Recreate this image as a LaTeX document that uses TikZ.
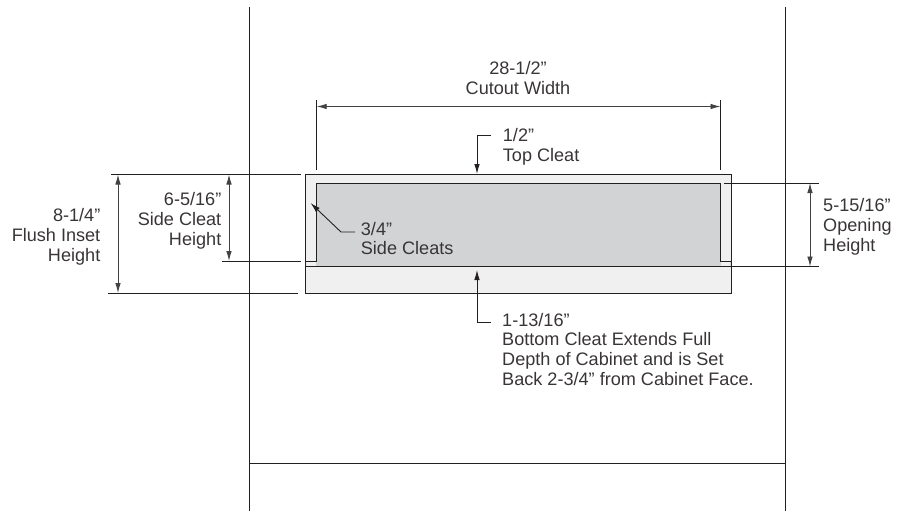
\documentclass[tikz,border=0pt]{standalone}
\usepackage{fontspec}
\setmainfont{Liberation Sans}
\usetikzlibrary{arrows.meta}
\definecolor{ink}{HTML}{231F20}
\definecolor{cleat}{HTML}{F0F0F0}
\definecolor{opening}{HTML}{D1D3D4}
\tikzset{x=1pt,y=-1pt,
  every node/.style={font=\fontsize{18.1}{19.8}\selectfont,text=ink!90,inner sep=0pt},
  wall/.style={draw=ink,line width=1.5pt},
  thin line/.style={draw=ink,line width=.9pt},
  dim/.style={draw=ink!85,line width=.9pt,{Latex[length=10pt,width=5.5pt]}-{Latex[length=10pt,width=5.5pt]}},
  lead/.style={draw=ink,line width=.9pt,{Latex[length=10pt,width=5.5pt]}-},
  clbl/.style={align=center,anchor=base},
  rlbl/.style={align=right,anchor=base east},
  llbl/.style={align=left,anchor=base west}}
\begin{document}
\begin{tikzpicture}
\useasboundingbox (0,0) rectangle (904,511);
% walls
\coordinate (wl1) at (249.7,7); \coordinate (wl2) at (249.7,511);
\coordinate (wr1) at (785.7,7); \coordinate (wr2) at (785.7,511);
\coordinate (s1) at (249.7,463); \coordinate (s2) at (785.7,463);
\draw[wall] (wl1)--(wl2); \draw[wall] (wr1)--(wr2);
\draw[thin line] (s1)--(s2);
% cutout
\path[fill=cleat,thin line] (305,174) rectangle (731,293);
\path[fill=opening,thin line] (305,261)--(316.7,261)--(316.7,183)--(720.5,183)--(720.5,261)--(731,261)--(731,266.5)--(305,266.5)--cycle;
\fill[cleat] (305.6,261.6) rectangle (316.2,266);
\fill[cleat] (721,261.6) rectangle (730.4,266);
% extension lines
\coordinate (t1) at (316.7,100); \coordinate (t2) at (316.7,170);
\coordinate (t3) at (720.5,100); \coordinate (t4) at (720.5,170);
\draw[thin line] (t1)--(t2); \draw[thin line] (t3)--(t4);
\coordinate (la) at (111,174); \coordinate (lb) at (301,174);
\coordinate (lc) at (222,261); \coordinate (ld) at (301,261);
\coordinate (le) at (108,293); \coordinate (lf) at (298,293);
\draw[thin line] (la)--(lb); \draw[thin line] (lc)--(ld); \draw[thin line] (le)--(lf);
\coordinate (ra) at (724,183); \coordinate (rb) at (819,183);
\coordinate (rc) at (724,266.5); \coordinate (rd) at (819,266.5);
\draw[thin line] (ra)--(rb); \draw[thin line] (rc)--(rd);
% dimensions
\coordinate (w1) at (316.7,106.5); \coordinate (w2) at (720.5,106.5);
\draw[dim] (w1)--(w2);
\coordinate (f1) at (118,174.5); \coordinate (f2) at (118,293);
\draw[dim] (f1)--(f2);
\coordinate (h1) at (229,174.5); \coordinate (h2) at (229,261);
\draw[dim] (h1)--(h2);
\coordinate (o1) at (810,183); \coordinate (o2) at (810,266.5);
\draw[dim] (o1)--(o2);
% leaders
\coordinate (a1) at (477,174); \coordinate (a2) at (477,135.5); \coordinate (a3) at (491,135.5);
\draw[lead] (a1)--(a2)--(a3);
\coordinate (b1) at (477,270); \coordinate (b2) at (477,322.5); \coordinate (b3) at (491,322.5);
\draw[lead] (b1)--(b2)--(b3);
\coordinate (c1) at (310.5,203); \coordinate (c2) at (341,232); \coordinate (c3) at (355,232);
\draw[lead] (c1)--(c2)--(c3);
% labels
\node[clbl] (nw) at (518,94.5) {28-1/2”\\Cutout Width};
\node[rlbl] (nf) at (100.5,261) {8-1/4”\\Flush Inset\\Height};
\node[rlbl] (nh) at (221.5,245) {6-5/16”\\Side Cleat\\Height};
\node[llbl] (no) at (823,251.2) {5-15/16”\\Opening\\Height};
\node[llbl] (nt) at (502.7,161.4) {1/2”\\Top Cleat};
\node[llbl] (ns) at (360.7,254.8) {3/4”\\Side Cleats};
\node[llbl] (nb) at (502,385.5) {1-13/16”\\Bottom Cleat Extends Full\\Depth of Cabinet and is Set\\Back 2-3/4” from Cabinet Face.};
\end{tikzpicture}
\end{document}
